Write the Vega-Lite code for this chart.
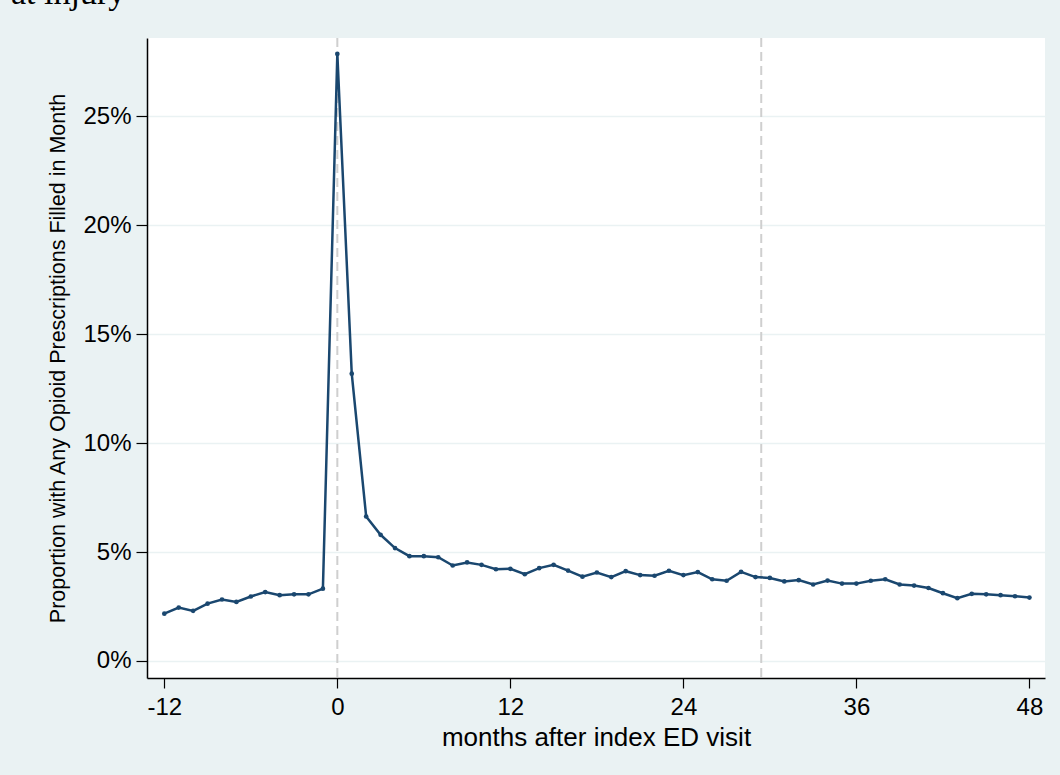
{
  "$schema": "https://vega.github.io/schema/vega-lite/v6.json",
  "width": 898,
  "height": 640,
  "autosize": {"type": "none"},
  "padding": {"left": 147, "top": 38, "right": 15, "bottom": 97},
  "background": "#EAF2F3",
  "title": {
    "text": "at injury",
    "font": "Liberation Serif",
    "fontSize": 34,
    "fontWeight": "normal",
    "color": "#000000",
    "anchor": "start",
    "frame": "bounds",
    "baseline": "alphabetic",
    "offset": 25,
    "dx": -37,
    "dy": 26
  },
  "config": {
    "view": {"stroke": null, "fill": "#FFFFFF"},
    "font": "Liberation Sans"
  },
  "datasets": {
    "series": [
      {"m": -12, "p": 0.0217}, {"m": -11, "p": 0.0245}, {"m": -10, "p": 0.0230}, {"m": -9, "p": 0.0263},
      {"m": -8, "p": 0.0282}, {"m": -7, "p": 0.0271}, {"m": -6, "p": 0.0296}, {"m": -5, "p": 0.0316},
      {"m": -4, "p": 0.0302}, {"m": -3, "p": 0.0306}, {"m": -2, "p": 0.0306}, {"m": -1, "p": 0.0332},
      {"m": 0, "p": 0.2785}, {"m": 1, "p": 0.1318}, {"m": 2, "p": 0.0663}, {"m": 3, "p": 0.0579},
      {"m": 4, "p": 0.0518}, {"m": 5, "p": 0.0481}, {"m": 6, "p": 0.0481}, {"m": 7, "p": 0.0476},
      {"m": 8, "p": 0.0438}, {"m": 9, "p": 0.0452}, {"m": 10, "p": 0.0441}, {"m": 11, "p": 0.0421},
      {"m": 12, "p": 0.0423}, {"m": 13, "p": 0.0398}, {"m": 14, "p": 0.0426}, {"m": 15, "p": 0.0441},
      {"m": 16, "p": 0.0415}, {"m": 17, "p": 0.0387}, {"m": 18, "p": 0.0406}, {"m": 19, "p": 0.0385},
      {"m": 20, "p": 0.0412}, {"m": 21, "p": 0.0394}, {"m": 22, "p": 0.0391}, {"m": 23, "p": 0.0414},
      {"m": 24, "p": 0.0394}, {"m": 25, "p": 0.0408}, {"m": 26, "p": 0.0375}, {"m": 27, "p": 0.0368},
      {"m": 28, "p": 0.0409}, {"m": 29, "p": 0.0385}, {"m": 30, "p": 0.0381}, {"m": 31, "p": 0.0365},
      {"m": 32, "p": 0.0371}, {"m": 33, "p": 0.0351}, {"m": 34, "p": 0.0369}, {"m": 35, "p": 0.0355},
      {"m": 36, "p": 0.0355}, {"m": 37, "p": 0.0368}, {"m": 38, "p": 0.0375}, {"m": 39, "p": 0.0351},
      {"m": 40, "p": 0.0346}, {"m": 41, "p": 0.0335}, {"m": 42, "p": 0.0311}, {"m": 43, "p": 0.0288},
      {"m": 44, "p": 0.0308}, {"m": 45, "p": 0.0306}, {"m": 46, "p": 0.0302}, {"m": 47, "p": 0.0297},
      {"m": 48, "p": 0.0291}
    ],
    "vlines": [{"m": 0}, {"m": 29.4}]
  },
  "layer": [
    {
      "data": {"name": "vlines"},
      "mark": {"type": "rule", "color": "#CFCFCF", "strokeWidth": 2, "strokeDash": [9, 5]},
      "encoding": {
        "x": {"field": "m", "type": "quantitative", "scale": {"domain": [-13.2, 49.08], "nice": false, "zero": false}}
      }
    },
    {
      "data": {"name": "series"},
      "mark": {
        "type": "line",
        "color": "#1A476F",
        "strokeWidth": 2.5,
        "point": {"filled": true, "size": 22, "color": "#1A476F"}
      },
      "encoding": {
        "x": {
          "field": "m",
          "type": "quantitative",
          "scale": {"domain": [-13.2, 49.08], "nice": false, "zero": false},
          "axis": {
            "title": "months after index ED visit",
            "values": [-12, 0, 12, 24, 36, 48],
            "labelExpr": "replace(datum.label, '\u2212', '-')",
            "grid": false,
            "domainColor": "#000000",
            "domainWidth": 1.5,
            "tickColor": "#000000",
            "tickWidth": 1.2,
            "tickSize": 10,
            "labelFontSize": 24,
            "labelColor": "#000000",
            "labelPadding": 7,
            "labelFlush": false,
            "titleFontSize": 26,
            "titleFontWeight": "normal",
            "titleColor": "#000000",
            "titlePadding": 5
          }
        },
        "y": {
          "field": "p",
          "type": "quantitative",
          "scale": {"domain": [-0.0078, 0.2858], "nice": false, "zero": false},
          "axis": {
            "title": "Proportion with Any Opioid Prescriptions Filled in Month",
            "values": [0, 0.05, 0.1, 0.15, 0.2, 0.25],
            "format": ".0%",
            "grid": true,
            "gridColor": "#EAF2F3",
            "gridWidth": 1.5,
            "domainColor": "#000000",
            "domainWidth": 1.5,
            "tickColor": "#000000",
            "tickWidth": 1.2,
            "tickSize": 11,
            "labelFontSize": 24,
            "labelColor": "#000000",
            "labelPadding": 5,
            "labelFlush": false,
            "titleFontSize": 21.5,
            "titleFontWeight": "normal",
            "titleColor": "#000000",
            "titlePadding": 13
          }
        }
      }
    }
  ]
}
